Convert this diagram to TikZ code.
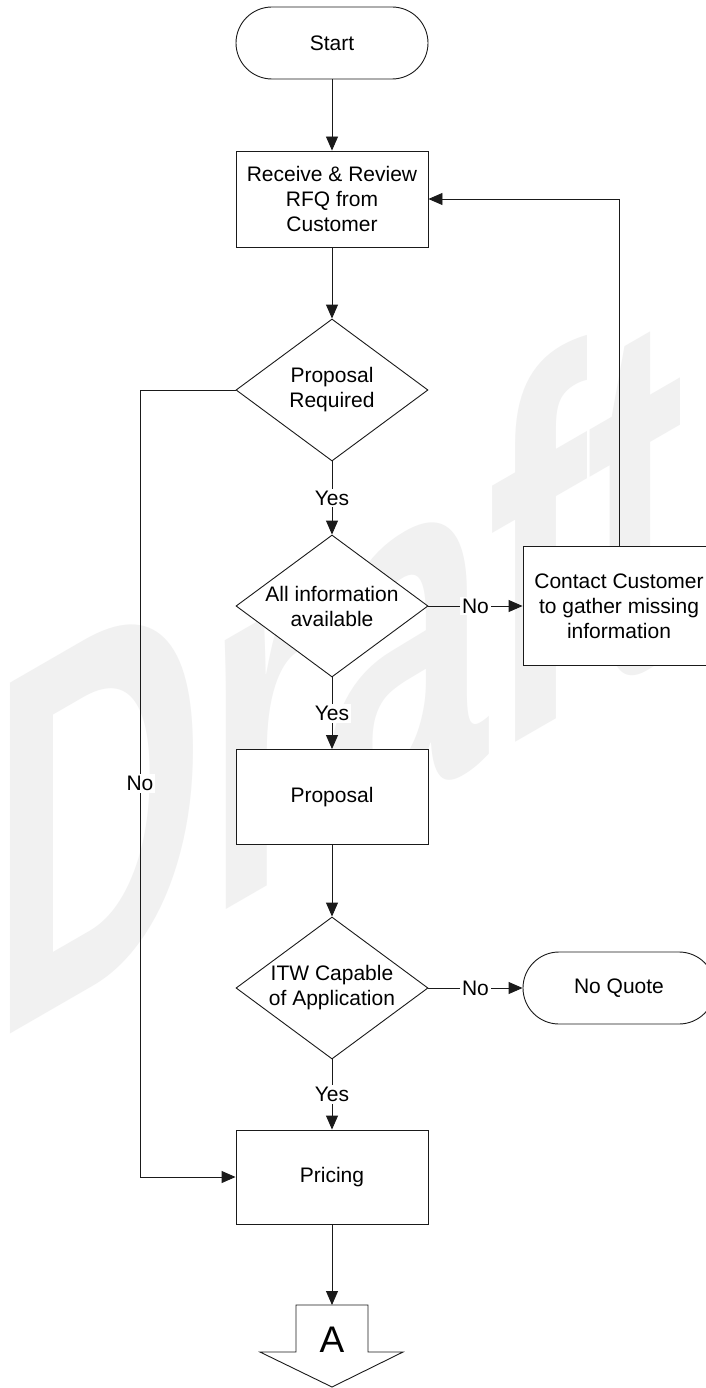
\documentclass[tikz,border=0pt]{standalone}
\usepackage{fontspec}
\setmainfont{Liberation Sans}
\usetikzlibrary{shapes.geometric, arrows.meta}
\definecolor{wm}{HTML}{F1F1F1}
\definecolor{ln}{HTML}{1A1A1A}
\begin{document}
\begin{tikzpicture}[x=1pt,y=-1pt,
  every node/.style={font=\fontsize{21}{25}\selectfont, text=black},
  proc/.style={draw=ln, fill=white, line width=0.9pt, minimum width=192pt, minimum height=96pt, align=center, inner sep=0pt},
  term/.style={draw=ln, fill=white, line width=0.9pt, rounded corners=36pt, minimum width=192pt, minimum height=72pt, inner sep=0pt},
  dec/.style={draw=ln, fill=white, line width=0.9pt, diamond, minimum width=192pt, minimum height=142pt, inner sep=0pt},
  dtext/.style={align=center, inner sep=0pt},
  lbl/.style={fill=white, inner sep=2pt},
  arr/.style={draw=ln, line width=0.9pt, -{Triangle[length=14pt,width=12pt]}},
  conn/.style={draw=ln, line width=0.9pt}]
\useasboundingbox (0,0) rectangle (706,1388);
\clip (0,0) rectangle (706,1388);
\fill[white] (0,0) rectangle (706,1388);
% watermark
\begin{scope}[shift={(-10,1046)}, yslant=0.577, xscale=0.585]
  \node[transform shape, anchor=base west, inner sep=0pt, text=wm,
        font=\fontsize{510}{510}\selectfont\bfseries] (wmk) at (0,0) {Draft};
\end{scope}
% nodes
\node[term] (start) at (332,43) {Start};
\node[proc] (rec) at (332,199) {Receive \& Review\\RFQ from\\Customer};
\node[dec] (d1) at (332,390) {};
\node[dtext] (d1t) at (d1) {Proposal\\Required};
\node[dec] (d2) at (332,606) {};
\node[dtext] (d2t) at (d2) {All information\\available};
\node[proc, minimum height=119pt] (cont) at (619,606) {Contact Customer\\to gather missing\\information};
\node[proc, minimum height=95pt] (prop) at (332,797) {Proposal};
\node[dec] (d3) at (332,988) {};
\node[dtext] (d3t) at (d3) {ITW Capable\\of Application};
\node[term] (noq) at (619,988) {No Quote};
\node[proc, minimum height=94pt] (pric) at (332,1177) {Pricing};
% off-page connector
\coordinate (opt) at (332,1305);
\draw[conn, fill=white] (296,1305) -- (368,1305) -- (368,1352) -- (403,1352) -- (332,1387) -- (260,1352) -- (296,1352) -- cycle;
\node[font=\fontsize{37}{37}\selectfont, inner sep=0pt] (A) at (332,1340) {A};
% connectors
\draw[arr] (start.south) -- (rec.north);
\draw[arr] (rec.south) -- (d1.north);
\draw[arr] (d1.south) -- node[lbl]{Yes} (d2.north);
\draw[arr] (d2.east) -- node[lbl]{No} (cont.west);
\draw[arr] (d2.south) -- node[lbl]{Yes} (prop.north);
\draw[arr] (prop.south) -- (d3.north);
\draw[arr] (d3.east) -- node[lbl]{No} (noq.west);
\draw[arr] (d3.south) -- node[lbl]{Yes} (pric.north);
\draw[arr] (pric.south) -- (opt);
\draw[arr] (cont.north) |- (rec.east);
\coordinate (c1) at (140,390);
\draw[arr] (d1.west) -- (c1) |- node[lbl, pos=0.25]{No} (pric.west);
\end{tikzpicture}
\end{document}
